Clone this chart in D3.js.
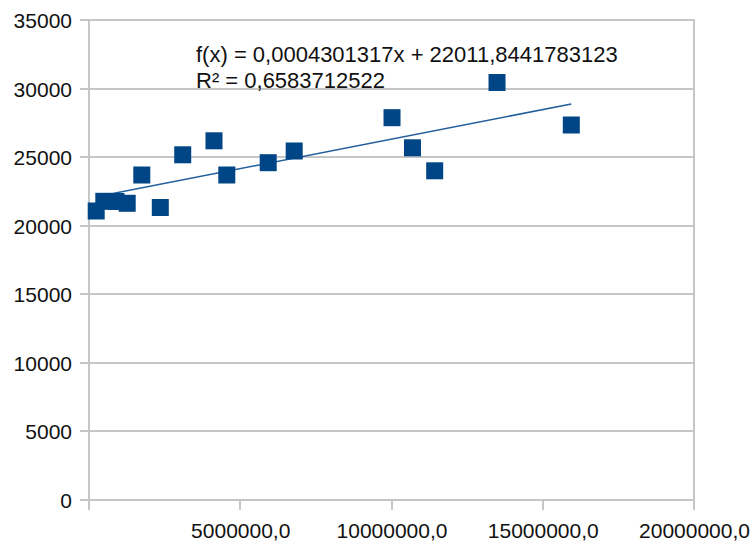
<!DOCTYPE html>
<html>
<head>
<meta charset="utf-8">
<script src="https://cdn.jsdelivr.net/npm/d3@7"></script>
<style>
  html, body { margin: 0; padding: 0; background: #fff; }
  svg { display: block; font-family: "Liberation Sans", Arial, sans-serif; }
</style>
</head>
<body>
<svg id="chart" width="753" height="545"></svg>
<script>
// Observations (x, y)
const xValues = [238000, 489000, 893000, 1263000, 1745000, 2357000, 3098000, 4132000,
                 4555000, 5924000, 6783000, 10017000, 10694000, 11428000, 13488000, 15944000];
const yValues = [21073, 21780, 21766, 21635, 23698, 21328, 25171, 26192,
                 23698, 24595, 25448, 27876, 25681, 24004, 30443, 27344];

// Axis ticks
const yTicks = [0, 5000, 10000, 15000, 20000, 25000, 30000, 35000];
const xTicks = [0, 5000000, 10000000, 15000000, 20000000];
const xTickLabels = ["", "5000000,0", "10000000,0", "15000000,0", "20000000,0"];

// Linear trend line and its fit statistics
const trendSlope = [0.0004301317];
const trendIntercept = [22011.8441783123];
const trendText = ["f(x) = 0,0004301317x + 22011,8441783123", "R² = 0,6583712522"];

const svg = d3.select("#chart");
const plotLeft = 89, plotRight = 694, plotTop = 20, plotBottom = 500;
const gridColor = "#c6c6c6";
const gridWidth = 2;
const markColor = "#004586";

const x = d3.scaleLinear().domain([0, 20000000]).range([plotLeft, plotRight]);
const y = d3.scaleLinear().domain([0, 35000]).range([plotBottom, plotTop]);

// Horizontal grid lines (extend left as tick marks)
svg.append("g")
  .selectAll("line")
  .data(yTicks)
  .join("line")
  .attr("x1", plotLeft - 9).attr("x2", plotRight + 1)
  .attr("y1", d => Math.round(y(d))).attr("y2", d => Math.round(y(d)))
  .attr("stroke", gridColor).attr("stroke-width", gridWidth);

// Vertical axis line
svg.append("line")
  .attr("x1", plotLeft).attr("x2", plotLeft)
  .attr("y1", plotTop - 1).attr("y2", plotBottom + 10)
  .attr("stroke", gridColor).attr("stroke-width", gridWidth);

// X tick marks (the last one also closes the plot on the right)
svg.append("g")
  .selectAll("line")
  .data(xTicks)
  .join("line")
  .attr("x1", d => Math.round(x(d))).attr("x2", d => Math.round(x(d)))
  .attr("y1", d => d === 20000000 ? plotTop - 1 : plotBottom).attr("y2", plotBottom + 10)
  .attr("stroke", gridColor).attr("stroke-width", gridWidth);

// Y axis labels
const yAxis = d3.axisLeft(y).tickValues(yTicks).tickSize(0).tickPadding(0)
  .tickFormat(d => String(d));
const gy = svg.append("g").attr("transform", `translate(${plotLeft - 17},0)`).call(yAxis);
gy.select(".domain").remove();
gy.selectAll("text")
  .attr("font-size", 21).attr("fill", "#111")
  .attr("font-family", "Liberation Sans, Arial, sans-serif")
  .attr("dy", "0.36em");

// X axis labels
const xAxis = d3.axisBottom(x).tickValues(xTicks).tickSize(0).tickPadding(0)
  .tickFormat((d, i) => xTickLabels[i]);
const gx = svg.append("g").attr("transform", `translate(0,${plotBottom})`).call(xAxis);
gx.select(".domain").remove();
gx.selectAll("text")
  .attr("font-size", 21).attr("fill", "#111")
  .attr("font-family", "Liberation Sans, Arial, sans-serif")
  .attr("y", 38).attr("dy", 0);

// Trend line drawn from the stated regression equation
const xMin = d3.min(xValues), xMax = d3.max(xValues);
const trendPts = [xMin, xMax].map(v => [v, trendIntercept[0] + trendSlope[0] * v]);
svg.append("path")
  .datum(trendPts)
  .attr("d", d3.line().x(d => x(d[0])).y(d => y(d[1])))
  .attr("fill", "none")
  .attr("stroke", "#235f9c")
  .attr("stroke-width", 1.6);

// Square markers
const s = 17;
svg.append("g")
  .selectAll("rect")
  .data(xValues.map((v, i) => [v, yValues[i]]))
  .join("rect")
  .attr("x", d => x(d[0]) - s / 2)
  .attr("y", d => y(d[1]) - s / 2)
  .attr("width", s).attr("height", s)
  .attr("fill", markColor);

// Equation and R² text
svg.append("g")
  .selectAll("text")
  .data(trendText)
  .join("text")
  .attr("x", 196)
  .attr("y", (d, i) => 61.5 + i * 26.8)
  .attr("font-size", 22)
  .attr("fill", "#111")
  .text(d => d);
</script>
</body>
</html>
